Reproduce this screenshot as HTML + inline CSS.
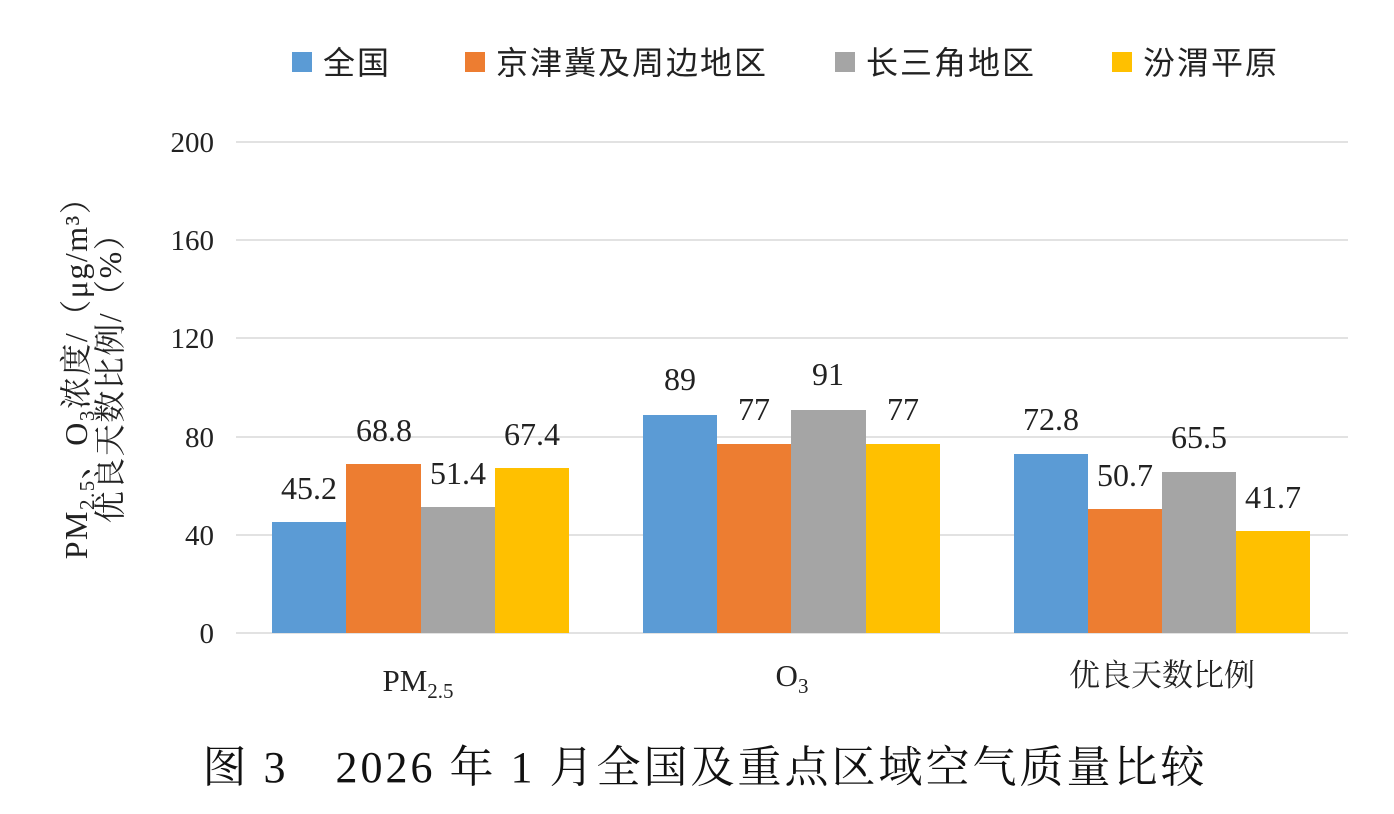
<!DOCTYPE html><html><head><meta charset="utf-8"><style>body{margin:0;background:#fff}svg{display:block}</style></head><body>
<svg width="1394" height="814" xmlns="http://www.w3.org/2000/svg">
<g font-family="Liberation Sans, Noto Sans CJK SC, sans-serif" font-size="32" fill="#222" letter-spacing="2">
<rect x="292" y="52" width="20" height="20" fill="#5b9bd5"/><text x="323" y="74">全国</text>
<rect x="465" y="52" width="20" height="20" fill="#ed7d31"/><text x="496" y="74">京津冀及周边地区</text>
<rect x="835" y="52" width="20" height="20" fill="#a5a5a5"/><text x="866" y="74">长三角地区</text>
<rect x="1112" y="52" width="20" height="20" fill="#ffc000"/><text x="1143" y="74">汾渭平原</text>
</g>
<g stroke="#d9d9d9" stroke-width="1.5">
<line x1="236" x2="1348" y1="142" y2="142"/><line x1="236" x2="1348" y1="240" y2="240"/><line x1="236" x2="1348" y1="338" y2="338"/><line x1="236" x2="1348" y1="437" y2="437"/><line x1="236" x2="1348" y1="535" y2="535"/><line x1="236" x2="1348" y1="633" y2="633"/>
</g>
<g font-family="Liberation Serif, Noto Serif CJK SC, serif" font-size="29" fill="#222" text-anchor="end">
<text x="214" y="152">200</text><text x="214" y="250">160</text><text x="214" y="348">120</text><text x="214" y="447">80</text><text x="214" y="545">40</text><text x="214" y="643">0</text>
</g>
<g>
<rect x="272" y="522" width="74" height="111" fill="#5b9bd5"/><rect x="346" y="464" width="75" height="169" fill="#ed7d31"/><rect x="421" y="507" width="74" height="126" fill="#a5a5a5"/><rect x="495" y="468" width="74" height="165" fill="#ffc000"/>
<rect x="643" y="415" width="74" height="218" fill="#5b9bd5"/><rect x="717" y="444" width="74" height="189" fill="#ed7d31"/><rect x="791" y="410" width="75" height="223" fill="#a5a5a5"/><rect x="866" y="444" width="74" height="189" fill="#ffc000"/>
<rect x="1014" y="454" width="74" height="179" fill="#5b9bd5"/><rect x="1088" y="509" width="74" height="124" fill="#ed7d31"/><rect x="1162" y="472" width="74" height="161" fill="#a5a5a5"/><rect x="1236" y="531" width="74" height="102" fill="#ffc000"/>
</g>
<g font-family="Liberation Serif, serif" font-size="32" fill="#222" text-anchor="middle">
<text x="309" y="499">45.2</text><text x="384" y="441">68.8</text><text x="458" y="484">51.4</text><text x="532" y="445">67.4</text>
<text x="680" y="390">89</text><text x="754" y="420">77</text><text x="828" y="385">91</text><text x="903" y="420">77</text>
<text x="1051" y="430">72.8</text><text x="1125" y="486">50.7</text><text x="1199" y="448">65.5</text><text x="1273" y="508">41.7</text>
</g>
<g font-family="Liberation Serif, Noto Serif CJK SC, serif" font-size="31" fill="#222" text-anchor="middle">
<text x="418" y="691">PM<tspan font-size="21" dy="7">2.5</tspan></text>
<text x="792" y="686">O<tspan font-size="21" dy="7">3</tspan></text>
<text x="1162" y="686">优良天数比例</text>
</g>
<g font-family="Liberation Serif, Noto Serif CJK SC, serif" font-size="32" fill="#222" text-anchor="middle" letter-spacing="1.5">
<text transform="translate(87,370) rotate(-90)">PM<tspan font-size="21" dy="7">2.5</tspan><tspan dy="-7">、O</tspan><tspan font-size="21" dy="7">3</tspan><tspan dy="-7">浓度/（μg/m³）</tspan></text>
<text transform="translate(121,370) rotate(-90)">优良天数比例/（%）</text>
</g>
<text x="705" y="782" text-anchor="middle" font-family="Liberation Serif, Noto Serif CJK SC, serif" font-size="44" letter-spacing="3" fill="#111">图 3　2026 年 1 月全国及重点区域空气质量比较</text>
</svg></body></html>
